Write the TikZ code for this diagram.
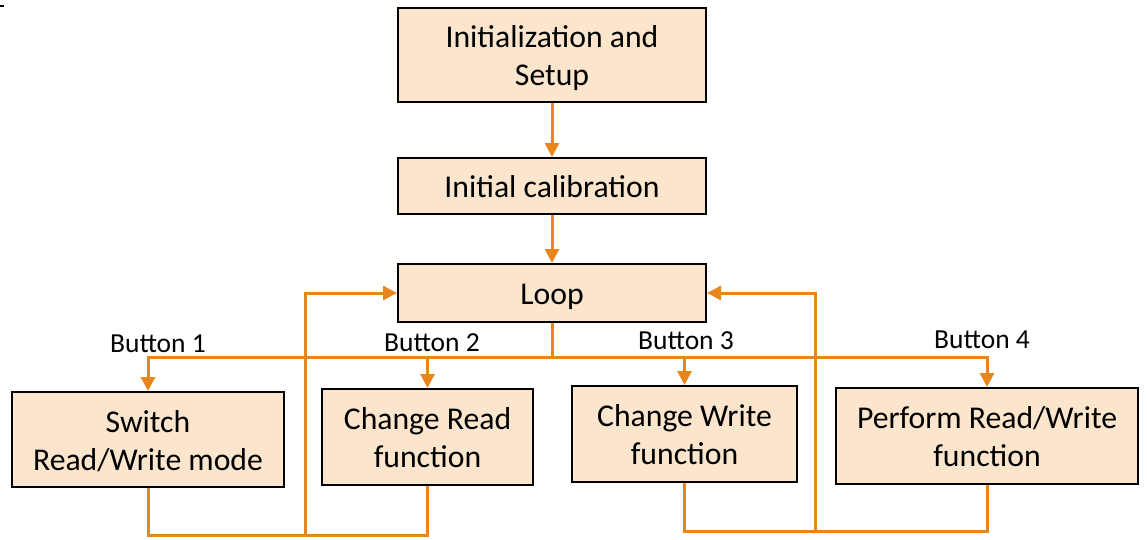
\documentclass[tikz,border=0pt]{standalone}
\usepackage{fontspec}
\setmainfont{Carlito}
\usetikzlibrary{arrows.meta}
\definecolor{boxfill}{RGB}{251,229,205}
\definecolor{lineor}{RGB}{232,133,28}
\tikzset{
  box/.style={draw=black, line width=2pt, fill=boxfill, inner sep=0pt, align=center,
    font=\fontsize{31.7}{38}\selectfont, text height=23pt, text depth=0pt},
  box2/.style={box, text height=61pt},
  conn/.style={draw=lineor, line width=3pt},
  arr/.style={conn, -{Triangle[length=14pt,width=14pt]}},
  lbl/.style={font=\fontsize{27.5}{32}\selectfont, inner sep=0pt}
}
\begin{document}
\begin{tikzpicture}[x=1pt,y=-1pt]
\useasboundingbox (0,0) rectangle (1147,539);
\fill[black] (0,5) rectangle (4,7);
\node[box2, minimum width=308pt, minimum height=94pt] (init) at (552,55) {Initialization and\\Setup};
\node[box, minimum width=308pt, minimum height=56pt] (calib) at (552,186) {Initial calibration};
\node[box, minimum width=308pt, minimum height=58pt] (loop) at (552,293) {Loop};
\node[box2, minimum width=272pt, minimum height=95pt] (switch) at (148,439.5) {Switch\\Read/Write mode};
\node[box2, minimum width=211pt, minimum height=96pt] (read) at (427.5,437) {Change Read\\function};
\node[box2, minimum width=225pt, minimum height=96pt] (write) at (684.5,434) {Change Write\\function};
\node[box2, minimum width=302pt, minimum height=96pt] (perform) at (987,436) {Perform Read/Write\\function};
\node[lbl] (b1) at (158,344) {Button 1};
\node[lbl] (b2) at (432,343) {Button 2};
\node[lbl] (b3) at (686,341) {Button 3};
\node[lbl] (b4) at (982,340) {Button 4};
\coordinate (bus) at (552,357);
\coordinate (retl) at (305.5,535);
\coordinate (retr) at (815.5,531);
\draw[arr] (init) -- (calib);
\draw[arr] (calib) -- (loop);
\draw[conn] (loop.south) -- (bus);
\draw[arr] (bus) -| (switch.north);
\draw[arr] (bus) -| (read.north);
\draw[arr] (bus) -| (write.north);
\draw[arr] (bus) -| (perform.north);
\draw[conn] (switch.south) |- (retl) -| (read.south);
\draw[arr] (retl) |- (loop.west);
\draw[conn] (write.south) |- (retr) -| (perform.south);
\draw[arr] (retr) |- (loop.east);
\end{tikzpicture}
\end{document}
